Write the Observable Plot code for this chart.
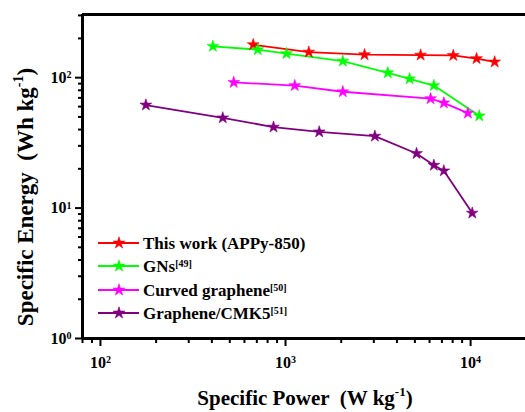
<!DOCTYPE html>
<html><head><meta charset="utf-8">
<script src="https://cdn.jsdelivr.net/npm/d3@7"></script>
<script src="https://cdn.jsdelivr.net/npm/@observablehq/plot@0.6"></script>
<style>
html,body{margin:0;padding:0;background:#fff;}
#chart{position:relative;width:525px;height:412px;overflow:hidden;}
</style></head><body><div id="chart"></div>
<script>
const seriesNames = ["This work (APPy-850)", "GNs", "Curved graphene", "Graphene/CMK5"];
const seriesRefs = ["", "[49]", "[50]", "[51]"];
const seriesColors = ["#ff0000", "#00ff00", "#ff00ff", "#800080"];

const thisWorkPower = [669, 1336, 2673, 5370, 8060, 10770, 13490];
const thisWorkEnergy = [179, 157, 150, 149, 148, 140, 132];
const gnsPower = [405, 708, 1012, 2040, 3570, 4680, 6330, 11140];
const gnsEnergy = [174, 164, 153, 134, 109, 98, 87, 51];
const curvedPower = [525, 1122, 2040, 6080, 7170, 9670];
const curvedEnergy = [92, 87, 78, 69, 64, 53.5];
const cmk5Power = [176, 458, 861, 1521, 3040, 5105, 6330, 7170, 10210];
const cmk5Energy = [61.7, 49.2, 41.8, 38.4, 35.6, 26.2, 21.3, 19.3, 9.15];

const xTicks = [100, 1000, 10000];
const yTicks = [1, 10, 100];
const xTitle = ["Specific Power  (W kg", "-1", ")"];
const yTitle = ["Specific Energy  (Wh kg", "-1", ")"];

const xDomain = [80, 19800];
const yDomain = [1, 305];

const seriesData = [[thisWorkPower, thisWorkEnergy], [gnsPower, gnsEnergy], [curvedPower, curvedEnergy], [cmk5Power, cmk5Energy]];
const data = [];
seriesData.forEach(([p, e], i) => p.forEach((v, j) => data.push({series: seriesNames[i], power: v, energy: e[j]})));

const minorX = d3.scaleLog().domain(xDomain).ticks().filter(t => !xTicks.includes(t));
const minorY = d3.scaleLog().domain(yDomain).ticks().filter(t => !yTicks.includes(t));
const expFmt = d => "10^" + Math.round(Math.log10(d));
const R = 3.7;

const plot = Plot.plot({
  width: 525, height: 412,
  marginLeft: 82, marginRight: 0, marginTop: 14, marginBottom: 74,
  style: {fontFamily: "'Liberation Serif', 'Times New Roman', serif", fontWeight: "bold", fontSize: "16px", background: "transparent", color: "#000"},
  x: {type: "log", domain: xDomain, label: null},
  y: {type: "log", domain: yDomain, label: null},
  color: {domain: seriesNames, range: seriesColors},
  marks: [
    Plot.axisX(minorX, {tickSize: 5, tickFormat: () => "", strokeWidth: 2, label: null}),
    Plot.axisX(xTicks, {tickSize: 8, tickPadding: 10, tickFormat: expFmt, strokeWidth: 2, fontSize: 16, label: null}),
    Plot.axisY(minorY, {tickSize: 4, tickFormat: () => "", strokeWidth: 2, label: null}),
    Plot.axisY(yTicks, {tickSize: 7, tickPadding: 4, tickFormat: expFmt, strokeWidth: 2, fontSize: 16, label: null}),
    Plot.ruleX([xDomain[0]], {strokeWidth: 3, stroke: "#000"}),
    Plot.ruleY([yDomain[0]], {strokeWidth: 3, stroke: "#000"}),
    Plot.ruleY([yDomain[1]], {strokeWidth: 3, stroke: "#000"}),
    Plot.line(data, {x: "power", y: "energy", z: "series", stroke: "series", strokeWidth: 1.8}),
    Plot.dot(data, {x: "power", y: "energy", fill: "series", stroke: "series", strokeWidth: 0.6, symbol: "star", r: R})
  ]
});
document.getElementById("chart").appendChild(plot);

const svg = d3.select(plot);
// superscripts on tick labels
svg.selectAll("text").each(function() {
  const t = this.textContent;
  if (!t.includes("^")) return;
  const [base, sup] = t.split("^");
  const el = d3.select(this);
  el.text(null);
  el.append("tspan").text(base);
  el.append("tspan").attr("dy", "-0.45em").attr("font-size", "10px").text(sup);
});

function richText(g, parts, baseSize, supSize) {
  g.append("tspan").text(parts[0]);
  if (parts[1]) g.append("tspan").attr("dy", -baseSize * 0.42).attr("font-size", supSize + "px").text(parts[1]);
  if (parts[2]) g.append("tspan").attr("dy", baseSize * 0.42).text(parts[2]);
}

const font = "'Liberation Serif', 'Times New Roman', serif";
// axis titles
const xt = svg.append("text").attr("x", 305).attr("y", 405).attr("text-anchor", "middle").style("white-space", "pre")
  .attr("font-family", font).attr("font-weight", "bold").attr("font-size", 21).attr("fill", "#000");
richText(xt, xTitle, 21, 13);
const yt = svg.append("text").attr("transform", "translate(33,197) rotate(-90)").attr("text-anchor", "middle").style("white-space", "pre")
  .attr("font-family", font).attr("font-weight", "bold").attr("font-size", 23).attr("fill", "#000");
richText(yt, yTitle, 23, 14);

// legend
const legY = [243, 266, 290, 313];
const star = d3.symbol(d3.symbolStar, R * R * Math.PI)();
seriesNames.forEach((name, i) => {
  const g = svg.append("g").attr("transform", `translate(0,${legY[i]})`);
  g.append("line").attr("x1", 98).attr("x2", 139).attr("stroke", seriesColors[i]).attr("stroke-width", 1.8);
  g.append("path").attr("d", star).attr("transform", "translate(119,0)").attr("fill", seriesColors[i]).attr("stroke", seriesColors[i]).attr("stroke-width", 0.6);
  const t = g.append("text").attr("x", 143).attr("dy", "0.35em").attr("text-anchor", "start").attr("font-family", font).attr("font-weight", "bold").attr("font-size", 17).attr("fill", "#000");
  t.append("tspan").text(name);
  if (seriesRefs[i]) t.append("tspan").attr("dy", "-0.5em").attr("font-size", "10px").text(seriesRefs[i]);
});
</script>
</body></html>
